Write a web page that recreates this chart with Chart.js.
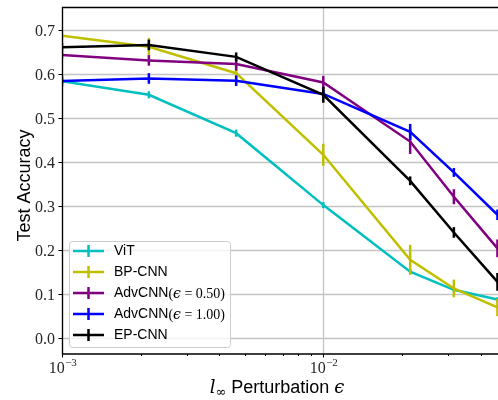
<!DOCTYPE html>
<html>
<head>
<meta charset="utf-8">
<script src="https://cdn.jsdelivr.net/npm/chart.js@4.4.1/dist/chart.umd.min.js"></script>
<style>
  html, body { margin: 0; padding: 0; background: #fff; }
  #wrap { width: 498px; height: 400px; position: relative; }
</style>
</head>
<body>
<div id="wrap"><canvas id="accChart"></canvas></div>
<script>
// perturbation budgets (x, log scale)
var epsValues = [0.001, 0.00215, 0.00464, 0.01, 0.0215, 0.0316, 0.0464];

// test accuracy per model, with error bar half-widths
var vitAcc = [0.583, 0.552, 0.465, 0.302, 0.151, 0.110, 0.088];
var vitErr = [0.006, 0.008, 0.008, 0.007, 0.006, 0.005, 0.005];
var bpAcc = [0.686, 0.661, 0.601, 0.416, 0.178, 0.113, 0.070];
var bpErr = [0.010, 0.020, 0.020, 0.025, 0.034, 0.020, 0.020];
var adv05Acc = [0.642, 0.630, 0.622, 0.580, 0.446, 0.321, 0.204];
var adv05Err = [0.008, 0.012, 0.015, 0.015, 0.028, 0.017, 0.020];
var adv10Acc = [0.583, 0.589, 0.584, 0.554, 0.468, 0.376, 0.280];
var adv10Err = [0.012, 0.012, 0.012, 0.010, 0.018, 0.010, 0.012];
var epAcc = [0.660, 0.665, 0.638, 0.552, 0.357, 0.240, 0.128];
var epErr = [0.010, 0.012, 0.010, 0.018, 0.010, 0.012, 0.020];

// legend names; the math part is drawn in serif
var seriesNames = ['ViT', 'BP-CNN', 'AdvCNN', 'AdvCNN', 'EP-CNN'];
var seriesMath = [null, null, '0.50', '1.00', null];
var seriesColors = ['#00bfbf', '#bfbf00', '#800080', '#0000ff', '#000000'];

var yTicks = [0.0, 0.1, 0.2, 0.3, 0.4, 0.5, 0.6, 0.7];
var xMajorTicks = [-3, -2];
var xMinorTicks = [0.002, 0.003, 0.004, 0.005, 0.006, 0.007, 0.008, 0.009, 0.02, 0.03, 0.04];

var accSeries = [vitAcc, bpAcc, adv05Acc, adv10Acc, epAcc];
var errSeries = [vitErr, bpErr, adv05Err, adv10Err, epErr];

var SERIF = '"Liberation Serif", "DejaVu Serif", serif';
var MATH = '"DejaVu Serif", "Liberation Serif", serif';
var SANS = '"Liberation Sans", Arial, sans-serif';

/** build line datasets from the arrays */
function buildDatasets() {
  return accSeries.map(function (acc, i) {
    return {
      label : seriesNames[i],
      data : acc.map(function (v, k) { return { x : epsValues[k], y : v }; }),
      borderColor : seriesColors[i],
      backgroundColor : seriesColors[i],
      borderWidth : 2.5,
      pointRadius : 0,
      tension : 0,
      order : accSeries.length - i,
      errors : errSeries[i],
    };
  });
}

/** vertical error bars, drawn right after each line */
var errorBars = {
  id : 'errorBars',
  afterDatasetDraw : function (chart, args) {
    var ds = chart.data.datasets[args.index];
    var xs = chart.scales.x;
    var ys = chart.scales.y;
    var area = chart.chartArea;
    var ctx = chart.ctx;
    ctx.save();
    ctx.beginPath();
    ctx.rect(area.left, area.top, area.right - area.left, area.bottom - area.top);
    ctx.clip();
    ctx.strokeStyle = ds.borderColor;
    ctx.lineWidth = 2.5;
    ds.data.forEach(function (pt, k) {
      var px = xs.getPixelForValue(pt.x);
      ctx.beginPath();
      ctx.moveTo(px, ys.getPixelForValue(pt.y - ds.errors[k]));
      ctx.lineTo(px, ys.getPixelForValue(pt.y + ds.errors[k]));
      ctx.stroke();
    });
    ctx.restore();
  },
};

/** grid lines, drawn under the data */
var gridLines = {
  id : 'gridLines',
  beforeDatasetsDraw : function (chart) {
    var ctx = chart.ctx;
    var area = chart.chartArea;
    var xs = chart.scales.x;
    var ys = chart.scales.y;
    ctx.save();
    ctx.strokeStyle = '#c4c4c4';
    ctx.lineWidth = 1.3;
    yTicks.forEach(function (v) {
      var py = Math.round(ys.getPixelForValue(v)) + 0.5;
      ctx.beginPath();
      ctx.moveTo(area.left, py);
      ctx.lineTo(area.right, py);
      ctx.stroke();
    });
    xMajorTicks.forEach(function (p) {
      var px = Math.round(xs.getPixelForValue(Math.pow(10, p))) + 0.5;
      ctx.beginPath();
      ctx.moveTo(px, area.top);
      ctx.lineTo(px, area.bottom);
      ctx.stroke();
    });
    ctx.restore();
  },
};

/** spines, tick marks, tick labels and axis titles */
var axesDecor = {
  id : 'axesDecor',
  afterDatasetsDraw : function (chart) {
    var ctx = chart.ctx;
    var area = chart.chartArea;
    var xs = chart.scales.x;
    var ys = chart.scales.y;
    ctx.save();

    // spines (right side is cut off in the figure)
    ctx.strokeStyle = '#000';
    ctx.lineWidth = 1.3;
    ctx.beginPath();
    ctx.moveTo(area.right, area.top + 0.5);
    ctx.lineTo(area.left + 0.5, area.top + 0.5);
    ctx.lineTo(area.left + 0.5, area.bottom);
    ctx.lineTo(area.right, area.bottom);
    ctx.stroke();

    // y ticks
    ctx.lineWidth = 1;
    ctx.fillStyle = '#262626';
    ctx.font = '16px ' + SERIF;
    ctx.textAlign = 'right';
    ctx.textBaseline = 'middle';
    yTicks.forEach(function (v) {
      var py = Math.round(ys.getPixelForValue(v)) + 0.5;
      ctx.beginPath();
      ctx.moveTo(area.left - 3.5, py);
      ctx.lineTo(area.left, py);
      ctx.stroke();
      ctx.fillText(v.toFixed(1), area.left - 7, py + 1);
    });

    // x ticks, major with 10^n labels
    xMajorTicks.forEach(function (p) {
      var px = Math.round(xs.getPixelForValue(Math.pow(10, p))) + 0.5;
      ctx.beginPath();
      ctx.moveTo(px, area.bottom);
      ctx.lineTo(px, area.bottom + 3.5);
      ctx.stroke();
      ctx.font = '16px ' + SERIF;
      var wBase = ctx.measureText('10').width;
      ctx.font = '11px ' + SERIF;
      var sup = '\u2212' + Math.abs(p);
      var wSup = ctx.measureText(sup).width;
      var x0 = px - (wBase + wSup) / 2;
      ctx.textAlign = 'left';
      ctx.textBaseline = 'alphabetic';
      ctx.font = '16px ' + SERIF;
      ctx.fillText('10', x0, area.bottom + 19);
      ctx.font = '11px ' + SERIF;
      ctx.fillText(sup, x0 + wBase + 0.5, area.bottom + 12);
    });
    xMinorTicks.forEach(function (v) {
      var px = Math.round(xs.getPixelForValue(v)) + 0.5;
      if (px > area.right) { return; }
      ctx.beginPath();
      ctx.moveTo(px, area.bottom);
      ctx.lineTo(px, area.bottom + 2);
      ctx.stroke();
    });

    // y title
    ctx.fillStyle = '#000';
    ctx.font = '18px ' + SANS;
    ctx.textAlign = 'center';
    ctx.textBaseline = 'alphabetic';
    ctx.save();
    ctx.translate(30, (area.top + area.bottom) / 2 + 5);
    ctx.rotate(-Math.PI / 2);
    ctx.fillText('Test Accuracy', 0, 0);
    ctx.restore();

    // x title: l_inf Perturbation eps
    var parts = [
      { t : 'l', f : 'italic 18px ' + MATH, dy : 0 },
      { t : '\u221e', f : '13px ' + MATH, dy : 3 },
      { t : ' Perturbation ', f : '18px ' + SANS, dy : 0 },
      { t : '\u03f5', f : 'italic 18px ' + MATH, dy : 0 },
    ];
    var total = 0;
    parts.forEach(function (p) { ctx.font = p.f; p.w = ctx.measureText(p.t).width; total += p.w; });
    var cx = (area.left + area.right) / 2 - total / 2 - 3;
    ctx.textAlign = 'left';
    parts.forEach(function (p) {
      ctx.font = p.f;
      ctx.fillText(p.t, cx, 393 + p.dy);
      cx += p.w;
    });

    ctx.restore();
    drawLegend(ctx, area);
  },
};

/** matplotlib-like legend in the lower left */
function drawLegend(ctx, area) {
  var x = area.left + 7;
  var y = 241;
  var w = 161;
  var h = 106;
  ctx.save();
  ctx.globalAlpha = 0.8;
  ctx.fillStyle = '#fff';
  ctx.strokeStyle = '#cccccc';
  ctx.lineWidth = 1;
  ctx.beginPath();
  ctx.roundRect(x + 0.5, y + 0.5, w, h, 3);
  ctx.fill();
  ctx.globalAlpha = 1;
  ctx.stroke();

  seriesNames.forEach(function (name, i) {
    var ry = 251 + i * 21;
    ctx.strokeStyle = seriesColors[i];
    ctx.lineWidth = 2.5;
    ctx.beginPath();
    ctx.moveTo(x + 4, ry);
    ctx.lineTo(x + 35, ry);
    ctx.moveTo(x + 19.5, ry - 6);
    ctx.lineTo(x + 19.5, ry + 6);
    ctx.stroke();

    ctx.fillStyle = '#000';
    ctx.textAlign = 'left';
    ctx.textBaseline = 'middle';
    ctx.font = '14px ' + SANS;
    var tx = x + 45;
    ctx.fillText(name, tx, ry);
    if (seriesMath[i]) {
      tx += ctx.measureText(name).width;
      var bits = [
        { t : '(', f : '14px ' + SERIF },
        { t : '\u03f5', f : 'italic 14px ' + MATH },
        { t : ' = ', f : '14px ' + SERIF },
        { t : seriesMath[i] + ')', f : '14px ' + SERIF },
      ];
      bits.forEach(function (b) {
        ctx.font = b.f;
        ctx.fillText(b.t, tx, ry + 1);
        tx += ctx.measureText(b.t).width;
      });
    }
  });
  ctx.restore();
}

var ctx = document.getElementById('accChart').getContext('2d');

var accChart = new Chart(ctx, {
  type : 'line',
  data : { datasets : buildDatasets() },
  plugins : [gridLines, errorBars, axesDecor],
  options : {
    responsive : true,
    maintainAspectRatio : false,
    animation : false,
    devicePixelRatio : 1,
    layout : { padding : { left : 62, top : 7, right : 0, bottom : 46 } },
    scales : {
      x : { type : 'logarithmic', min : 0.001, max : 0.04662, display : false },
      y : { type : 'linear', min : -0.0355, max : 0.751, display : false },
    },
    plugins : {
      legend : { display : false },
      tooltip : { enabled : false },
    },
  },
});
</script>
</body>
</html>
